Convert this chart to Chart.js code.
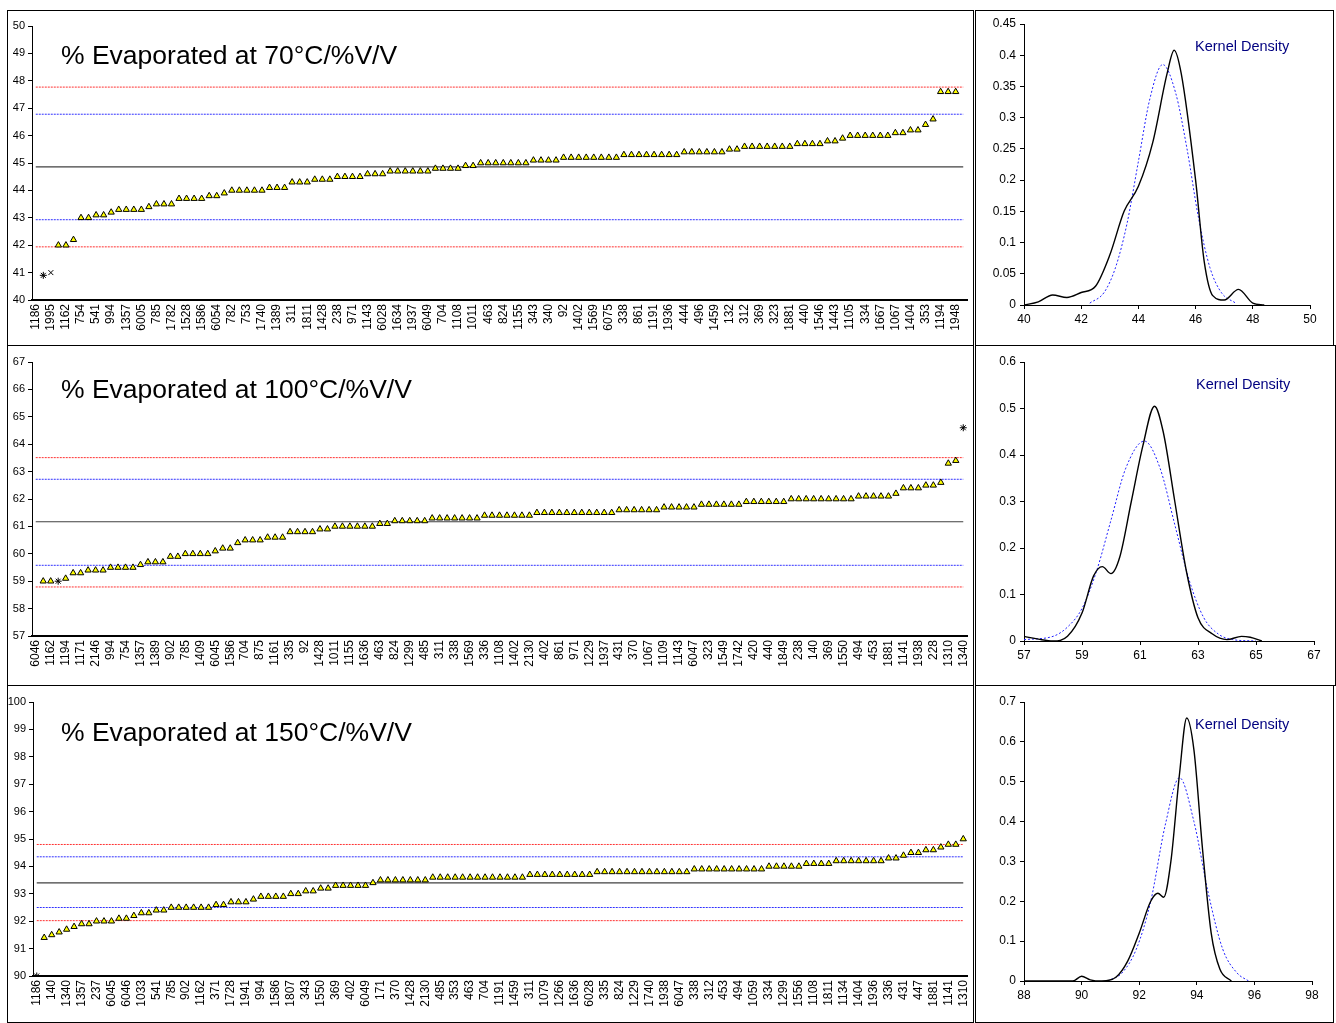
<!DOCTYPE html>
<html>
<head>
<meta charset="utf-8">
<script src="https://cdn.jsdelivr.net/npm/chart.js@4.4.1/dist/chart.umd.min.js"></script>
<style>
  body { margin: 0; background: #fff; font-family: "Liberation Sans", Arial, sans-serif; }
  .box { position: absolute; border: 1px solid #000; box-sizing: border-box; }
  canvas { position: absolute; }
  .title { position: absolute; left: 61px; font-size: 26.5px; line-height: 26.5px; color: #000; white-space: nowrap; }
  .kd { position: absolute; font-size: 14.5px; line-height: 15px; color: #000080; white-space: nowrap; }
</style>
</head>
<body>

<div class="box" style="left:7px;top:10px;width:967px;height:336px"></div>
<div class="box" style="left:975px;top:10px;width:359px;height:336px"></div>
<div class="box" style="left:7px;top:345px;width:967px;height:341px"></div>
<div class="box" style="left:975px;top:345px;width:361px;height:341px"></div>
<div class="box" style="left:7px;top:685px;width:967px;height:338px"></div>
<div class="box" style="left:975px;top:685px;width:359px;height:338px"></div>

<canvas id="c70" width="964" height="333" style="left:8px;top:11px"></canvas>
<canvas id="c100" width="964" height="338" style="left:8px;top:346px"></canvas>
<canvas id="c150" width="964" height="336" style="left:8px;top:686px"></canvas>
<canvas id="k70" width="356" height="333" style="left:976px;top:11px"></canvas>
<canvas id="k100" width="359" height="338" style="left:976px;top:346px"></canvas>
<canvas id="k150" width="356" height="336" style="left:976px;top:686px"></canvas>

<div class="title" style="top:42px">% Evaporated at 70°C/%V/V</div>
<div class="title" style="top:376px">% Evaporated at 100°C/%V/V</div>
<div class="title" style="top:719px">% Evaporated at 150°C/%V/V</div>
<div class="kd" style="left:1195px;top:39px">Kernel Density</div>
<div class="kd" style="left:1196px;top:377px">Kernel Density</div>
<div class="kd" style="left:1195px;top:717px">Kernel Density</div>

<script>
// sample ids shown on the axis (every second point)
const labels70 = ['1186','1995','1162','754','541','994','1357','6005','785','1782','1528','1586','6054','782','753','1740','1389','311','1811','1428','238','971','1143','6028','1634','1937','6049','704','1108','1011','463','824','1155','343','340','92','1402','1569','6075','338','861','1191','1936','444','496','1459','132','312','369','323','1881','440','1546','1443','1105','334','1667','1067','1404','353','1194','1948'];
const labels100 = ['6046','1162','1194','1171','2146','994','754','1357','1389','902','785','1409','6045','1586','704','875','1161','335','92','1428','1011','1155','1636','463','824','1299','485','311','338','1569','336','1108','1402','2130','402','861','971','1229','1937','431','370','1067','1109','1143','6047','323','1549','1742','420','440','1849','238','140','369','1550','494','453','1881','1141','1938','228','1310','1340'];
const labels150 = ['1186','140','1340','1357','237','6045','6046','1033','541','785','902','1162','371','1728','1941','994','1586','1807','343','1550','369','402','6049','171','370','1428','2130','485','353','463','704','1191','1459','311','1079','1266','1636','6028','335','824','1229','1740','1938','6047','338','312','453','494','1059','334','1299','1556','1108','1811','1134','1404','1936','336','431','447','1881','1141','1310'];

// sorted results
const values70 = [null, 40.9, 41.0,
  42.0, 42.0, 42.2, 43.0, 43.0, 43.1, 43.1, 43.2, 43.3, 43.3, 43.3, 43.3, 43.4, 43.5, 43.5, 43.5,
  43.7, 43.7, 43.7, 43.7, 43.8, 43.8, 43.9, 44.0, 44.0, 44.0, 44.0, 44.0, 44.1, 44.1, 44.1,
  44.3, 44.3, 44.3, 44.4, 44.4, 44.4, 44.5, 44.5, 44.5, 44.5, 44.6, 44.6, 44.6,
  44.7, 44.7, 44.7, 44.7, 44.7, 44.7, 44.8, 44.8, 44.8, 44.8, 44.9, 44.9,
  45.0, 45.0, 45.0, 45.0, 45.0, 45.0, 45.0, 45.1, 45.1, 45.1, 45.1,
  45.2, 45.2, 45.2, 45.2, 45.2, 45.2, 45.2, 45.2, 45.3, 45.3, 45.3, 45.3, 45.3, 45.3, 45.3, 45.3,
  45.4, 45.4, 45.4, 45.4, 45.4, 45.4, 45.5, 45.5, 45.6, 45.6, 45.6, 45.6, 45.6, 45.6, 45.6,
  45.7, 45.7, 45.7, 45.7, 45.8, 45.8, 45.9, 46.0, 46.0, 46.0, 46.0, 46.0, 46.0,
  46.1, 46.1, 46.2, 46.2, 46.4, 46.6, 47.6, 47.6, 47.6, null];
const values100 = [null, 59.0, 59.0, 59.0,
  59.1, 59.3, 59.3, 59.4, 59.4, 59.4, 59.5, 59.5, 59.5, 59.5, 59.6, 59.7, 59.7, 59.7, 59.9, 59.9,
  60.0, 60.0, 60.0, 60.0, 60.1, 60.2, 60.2, 60.4, 60.5, 60.5, 60.5, 60.6, 60.6, 60.6,
  60.8, 60.8, 60.8, 60.8, 60.9, 60.9, 61.0, 61.0, 61.0, 61.0, 61.0, 61.0, 61.1, 61.1,
  61.2, 61.2, 61.2, 61.2, 61.2, 61.3, 61.3, 61.3, 61.3, 61.3, 61.3, 61.3,
  61.4, 61.4, 61.4, 61.4, 61.4, 61.4, 61.4,
  61.5, 61.5, 61.5, 61.5, 61.5, 61.5, 61.5, 61.5, 61.5, 61.5, 61.5,
  61.6, 61.6, 61.6, 61.6, 61.6, 61.6, 61.7, 61.7, 61.7, 61.7, 61.7,
  61.8, 61.8, 61.8, 61.8, 61.8, 61.8, 61.9, 61.9, 61.9, 61.9, 61.9, 61.9,
  62.0, 62.0, 62.0, 62.0, 62.0, 62.0, 62.0, 62.0, 62.0, 62.1, 62.1, 62.1, 62.1, 62.1,
  62.2, 62.4, 62.4, 62.4, 62.5, 62.5, 62.6, 63.3, 63.4, 64.6];
const values150 = [90.0,
  91.4, 91.5, 91.6, 91.7, 91.8, 91.9, 91.9, 92.0, 92.0, 92.0, 92.1, 92.1, 92.2, 92.3, 92.3,
  92.4, 92.4, 92.5, 92.5, 92.5, 92.5, 92.5, 92.5, 92.6, 92.6, 92.7, 92.7, 92.7, 92.8,
  92.9, 92.9, 92.9, 92.9, 93.0, 93.0, 93.1, 93.1, 93.2, 93.2, 93.3, 93.3, 93.3, 93.3, 93.3, 93.4,
  93.5, 93.5, 93.5, 93.5, 93.5, 93.5, 93.5,
  93.6, 93.6, 93.6, 93.6, 93.6, 93.6, 93.6, 93.6, 93.6, 93.6, 93.6, 93.6, 93.6,
  93.7, 93.7, 93.7, 93.7, 93.7, 93.7, 93.7, 93.7, 93.7,
  93.8, 93.8, 93.8, 93.8, 93.8, 93.8, 93.8, 93.8, 93.8, 93.8, 93.8, 93.8, 93.8,
  93.9, 93.9, 93.9, 93.9, 93.9, 93.9, 93.9, 93.9, 93.9, 93.9,
  94.0, 94.0, 94.0, 94.0, 94.0, 94.1, 94.1, 94.1, 94.1,
  94.2, 94.2, 94.2, 94.2, 94.2, 94.2, 94.2, 94.3, 94.3, 94.4, 94.5, 94.5, 94.6, 94.6,
  94.7, 94.8, 94.8, 95.0];

// outliers (index in the sorted list) and their marker
const outIdx70 = [1, 2];
const outMark70 = ['star', 'crossRot'];
const outIdx100 = [3, 124];
const outMark100 = ['star', 'star'];
const outIdx150 = [0];
const outMark150 = ['star'];

// mean, inner and outer limits
const mean70 = 44.86, inner70 = [42.93, 46.78], outer70 = [41.94, 47.77];
const mean100 = 61.17, inner100 = [59.58, 62.72], outer100 = [58.79, 63.51];
const mean150 = 93.4, inner150 = [92.5, 94.35], outer150 = [92.02, 94.8];

// kernel density (black) and normal curve (blue dotted)
const kdX70 = [40, 40.5, 41, 41.5, 42, 42.5, 43, 43.5, 44, 44.5, 45, 45.25, 45.5, 46, 46.3, 46.6, 47, 47.5, 48, 48.4];
const kdY70 = [0, 0.005, 0.016, 0.012, 0.02, 0.03, 0.08, 0.15, 0.19, 0.26, 0.37, 0.408, 0.37, 0.2, 0.07, 0.015, 0.008, 0.025, 0.003, 0];
const nX70 = [42.3, 42.8, 43.2, 43.6, 44.0, 44.4, 44.85, 45.3, 45.7, 46.1, 46.5, 46.9, 47.4];
const nY70 = [0.003, 0.02, 0.06, 0.13, 0.23, 0.33, 0.385, 0.34, 0.25, 0.14, 0.06, 0.02, 0.003];

const kdX100 = [57, 57.5, 58, 58.5, 59, 59.4, 59.7, 60.0, 60.3, 60.7, 61.1, 61.5, 61.8, 62.2, 62.6, 63.0, 63.5, 64, 64.5, 64.8, 65.2];
const kdY100 = [0.01, 0.004, 0.0, 0.01, 0.06, 0.14, 0.16, 0.145, 0.18, 0.3, 0.42, 0.505, 0.45, 0.3, 0.15, 0.05, 0.015, 0.003, 0.01, 0.008, 0];
const nX100 = [57, 58, 58.5, 59, 59.5, 60, 60.5, 61.15, 61.7, 62.2, 62.7, 63.2, 63.7, 64.2, 65];
const nY100 = [0.003, 0.01, 0.03, 0.07, 0.15, 0.26, 0.37, 0.43, 0.37, 0.25, 0.13, 0.05, 0.015, 0.003, 0];

const kdX150 = [88, 89.7, 90.0, 90.3, 90.7, 91.2, 91.6, 92.0, 92.4, 92.65, 92.85, 93.1, 93.4, 93.65, 93.9, 94.2, 94.5, 94.8, 95.2];
const kdY150 = [0, 0, 0.012, 0.003, 0, 0.01, 0.05, 0.12, 0.2, 0.22, 0.21, 0.3, 0.52, 0.66, 0.58, 0.33, 0.12, 0.03, 0];
const nX150 = [90.9, 91.4, 91.9, 92.4, 92.9, 93.4, 93.9, 94.4, 94.9, 95.4, 95.8];
const nY150 = [0, 0.02, 0.08, 0.2, 0.39, 0.51, 0.4, 0.22, 0.08, 0.02, 0];

const font = "'Liberation Sans', Arial, sans-serif";

function sortedChart(id, labels, values, outIdx, outMark, mean, inner, outer, yMin, yMax, pad) {
  const cats = values.map((v, i) => (i % 2 === 0 && labels[i / 2]) ? labels[i / 2] : '');
  const main = values.map((v, i) => outIdx.includes(i) ? null : v);
  const outs = values.map((v, i) => outIdx.includes(i) ? v : null);
  const marks = values.map((v, i) => outIdx.includes(i) ? outMark[outIdx.indexOf(i)] : 'circle');
  const flat = (val, color, dash, width) => ({
    data: cats.map(() => val), borderColor: color, borderDash: dash, borderWidth: width,
    pointRadius: 0, fill: false
  });

  new Chart(document.getElementById(id), {
    type: 'line',
    data: {
      labels: cats,
      datasets: [
        { data: main, showLine: false, pointStyle: 'triangle', pointRadius: 3.6,
          backgroundColor: '#ffff00', borderColor: '#000', borderWidth: 1 },
        { data: outs, showLine: false, pointStyle: marks, pointRadius: 3.5,
          borderColor: '#000', backgroundColor: '#000', borderWidth: 1 },
        flat(mean, '#404040', [], 1.2),
        flat(inner[0], '#3030ff', [2, 1], 1),
        flat(inner[1], '#3030ff', [2, 1], 1),
        flat(outer[0], '#ff3030', [2, 1], 1),
        flat(outer[1], '#ff3030', [2, 1], 1)
      ]
    },
    options: {
      responsive: false,
      animation: false,
      layout: { autoPadding: false, padding: { top: pad.top, right: pad.right, left: 0, bottom: 0 } },
      plugins: { legend: { display: false }, tooltip: { enabled: false } },
      scales: {
        x: {
          offset: true,
          grid: { display: false, drawTicks: false },
          border: { display: true, color: '#000', width: 2 },
          ticks: { autoSkip: false, maxRotation: 90, minRotation: 90, padding: 4,
                   color: '#000', font: { family: font, size: 12 } },
          afterFit: (s) => { s.height = pad.xh; s.paddingLeft = 0; s.paddingRight = 0; }
        },
        y: {
          min: yMin, max: yMax,
          grid: { drawOnChartArea: false, tickLength: 4, color: '#000' },
          border: { display: true, color: '#000', width: 1 },
          ticks: { stepSize: 1, padding: 3, color: '#000', font: { family: font, size: 11 } },
          afterFit: (s) => { s.width = pad.yw; }
        }
      }
    }
  });
}

function densityChart(id, kx, ky, nx, ny, xMin, xMax, yMax, yStep, pad) {
  new Chart(document.getElementById(id), {
    type: 'scatter',
    data: {
      datasets: [
        { data: kx.map((x, i) => ({ x: x, y: ky[i] })), showLine: true, pointRadius: 0,
          borderColor: '#000', borderWidth: 1.4, cubicInterpolationMode: 'monotone' },
        { data: nx.map((x, i) => ({ x: x, y: ny[i] })), showLine: true, pointRadius: 0,
          borderColor: '#2020ff', borderWidth: 1, borderDash: [2, 2], cubicInterpolationMode: 'monotone' }
      ]
    },
    options: {
      responsive: false,
      animation: false,
      layout: { autoPadding: false, padding: { top: pad.top, right: pad.right, left: 0, bottom: 0 } },
      plugins: { legend: { display: false }, tooltip: { enabled: false } },
      scales: {
        x: {
          type: 'linear', min: xMin, max: xMax,
          grid: { drawOnChartArea: false, tickLength: 4, color: '#000' },
          border: { display: true, color: '#000', width: 1 },
          ticks: { stepSize: 2, padding: 3, color: '#000', font: { family: font, size: 12 } },
          afterFit: (s) => { s.height = pad.xh; }
        },
        y: {
          min: 0, max: yMax,
          grid: { drawOnChartArea: false, tickLength: 4, color: '#000' },
          border: { display: true, color: '#000', width: 1 },
          ticks: { stepSize: yStep, padding: 4, color: '#000', font: { family: font, size: 12 },
                   callback: (v) => String(Number(v.toFixed(2))) },
          afterFit: (s) => { s.width = pad.yw; }
        }
      }
    }
  });
}

sortedChart('c70', labels70, values70, outIdx70, outMark70, mean70, inner70, outer70, 40, 50,
  { top: 15, right: 5, xh: 44, yw: 24 });
sortedChart('c100', labels100, values100, outIdx100, outMark100, mean100, inner100, outer100, 57, 67,
  { top: 16, right: 5, xh: 48, yw: 24 });
sortedChart('c150', labels150, values150, outIdx150, outMark150, mean150, inner150, outer150, 90, 100,
  { top: 16, right: 5, xh: 46, yw: 25 });

densityChart('k70', kdX70, kdY70, nX70, nY70, 40, 50, 0.45, 0.05, { top: 13, right: 22, xh: 39, yw: 48 });
densityChart('k100', kdX100, kdY100, nX100, nY100, 57, 67, 0.6, 0.1, { top: 16, right: 21, xh: 43, yw: 48 });
densityChart('k150', kdX150, kdY150, nX150, nY150, 88, 98, 0.7, 0.1, { top: 16, right: 20, xh: 41, yw: 48 });
</script>
</body>
</html>
